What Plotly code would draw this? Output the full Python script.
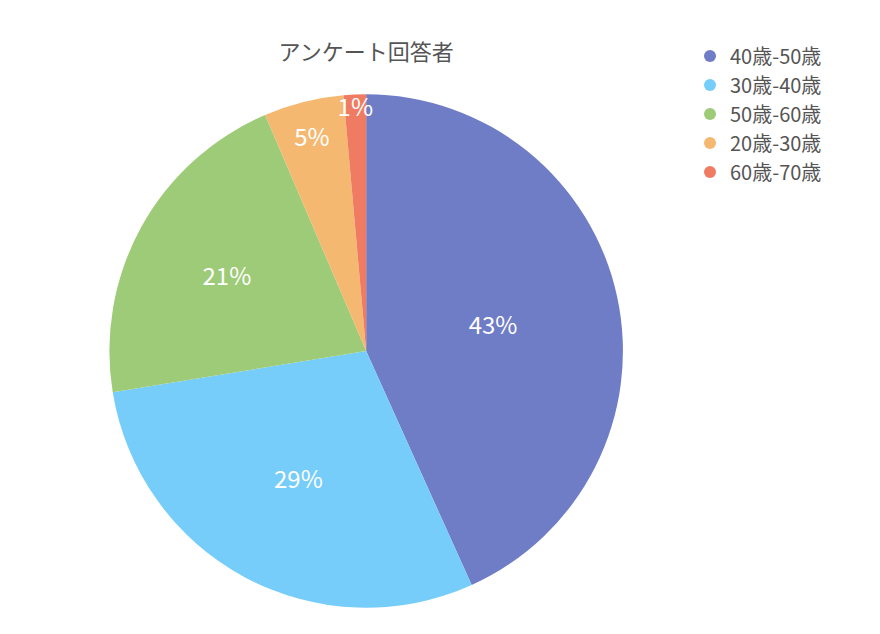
import plotly.graph_objects as go

labels = ["40歳-50歳", "30歳-40歳", "50歳-60歳", "20歳-30歳", "60歳-70歳"]
values = [43, 29, 21, 5, 1.4]
colors = ["#6f7cc6", "#76cdfa", "#9ecb78", "#f4b870", "#ef7c62"]

fig = go.Figure()
fig.add_trace(go.Pie(
    labels=labels, values=values, sort=False, direction="clockwise", rotation=0,
    marker=dict(colors=colors), texttemplate="%{percent:.0%}",
    textposition="inside", insidetextorientation="horizontal",
    textfont=dict(color="white", size=24), showlegend=False, hoverinfo="label+percent",
    domain=dict(x=[0.115, 0.699], y=[0.054, 0.864]),
))

# circle markers for the legend
for lab, col in zip(labels, colors):
    fig.add_trace(go.Scatter(x=[None], y=[None], mode="markers", name=lab,
                             marker=dict(symbol="circle", size=16, color=col)))

fig.update_layout(
    width=880, height=634, margin=dict(l=0, r=0, t=0, b=0),
    paper_bgcolor="white", plot_bgcolor="white",
    font=dict(family="Noto Sans CJK JP", color="#555"),
    title=dict(text="アンケート回答者", x=0.407, xanchor="center", y=0.93, yanchor="middle",
               font=dict(size=22, color="#555")),
    uniformtext=dict(minsize=24, mode="show"),
    legend=dict(x=0.775, y=0.955, xanchor="left", yanchor="top",
                font=dict(size=20, color="#555"), itemsizing="constant", tracegroupgap=0),
    xaxis=dict(visible=False), yaxis=dict(visible=False),
)

fig.write_html("out.html")
